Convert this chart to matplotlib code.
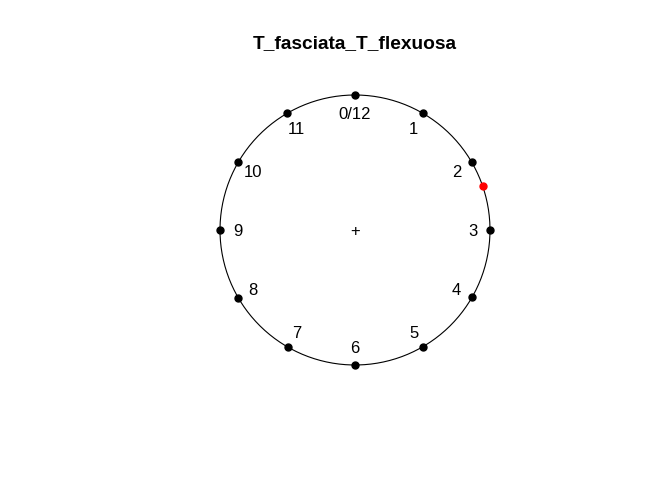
import numpy as np
import matplotlib
matplotlib.use("Agg")
import matplotlib.pyplot as plt

plt.rcParams['font.family'] = ['Liberation Sans', 'DejaVu Sans']

# clock hours and the one observation
hours = np.arange(12)
hour_labels = ['0/12', '1', '2', '3', '4', '5', '6', '7', '8', '9', '10', '11']
obs_hours = [2.37]
title = 'T_fasciata_T_flexuosa'

fig = plt.figure(figsize=(6.72, 4.8), dpi=100)
ax = fig.add_axes([0, 0, 1, 1])
R = 135.0
ax.set_xlim(-355 / R, (672 - 355) / R)
ax.set_ylim(-(480 - 230) / R, 230 / R)
ax.axis('off')

def xy(h, r=1.0):
    a = np.pi / 2 - h / 12 * 2 * np.pi
    return r * np.cos(a), r * np.sin(a)

t = np.linspace(0, 12, 400)
cx, cy = xy(t)
ax.plot(cx, cy, color='black', lw=0.8)

px, py = xy(hours)
ax.plot(px, py, 'o', color='black', ms=5)

for h, lab in zip(hours, hour_labels):
    lx, ly = xy(h, 0.87)
    ax.text(lx, ly, lab, ha='center', va='center_baseline', fontsize=12)

ox, oy = xy(np.array(obs_hours))
ax.plot(ox, oy, 'o', color='red', ms=5)

ax.text(0, 0, '+', ha='center', va='center_baseline', fontsize=12)

fig.text(355 / 672, 1 - 42 / 480, title, ha='center', va='center_baseline',
         fontsize=13.8, fontweight='bold')

fig.savefig('out.png', dpi=100)
